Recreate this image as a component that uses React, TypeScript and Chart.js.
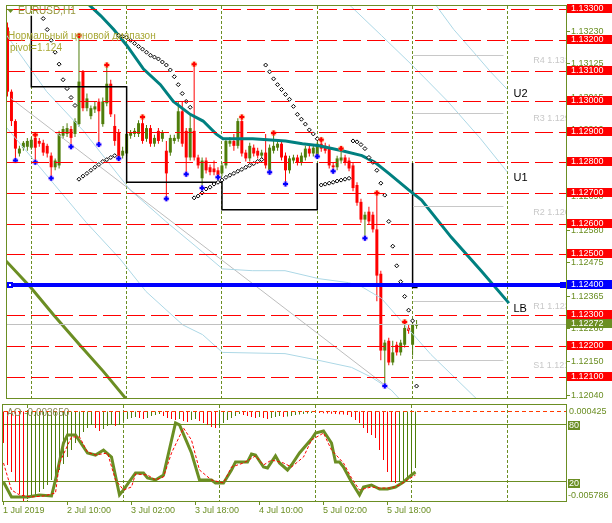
import React, { useEffect, useRef } from 'react';
import { Chart, registerables } from 'chart.js';

Chart.register(...registerables);

// ---------- EURUSD H1 bars (1 Jul 18:00 ... 5 Jul 21:00) ----------
const openP = [
  1.13243, 1.13033, 1.12937, 1.12831, 1.12850, 1.12853, 1.12850, 1.12882, 1.12872, 1.12866,
  1.12856, 1.12824, 1.12786, 1.12792, 1.12889, 1.12895, 1.12911, 1.12895, 1.12927, 1.13098,
  1.12979, 1.12953, 1.12975, 1.13001, 1.12927, 1.12995, 1.13059, 1.12921, 1.12898, 1.12824,
  1.12831, 1.12889, 1.12895, 1.12895, 1.12930, 1.12879, 1.12914, 1.12863, 1.12905, 1.12879,
  1.12840, 1.12834, 1.12872, 1.12879, 1.12969, 1.12905, 1.12818, 1.12905, 1.12818, 1.12750,
  1.12808, 1.12786, 1.12782, 1.12776, 1.12766, 1.12792, 1.12863, 1.12872, 1.12856, 1.12937,
  1.12834, 1.12815, 1.12850, 1.12840, 1.12824, 1.12834, 1.12776, 1.12840, 1.12850, 1.12863,
  1.12824, 1.12776, 1.12808, 1.12818, 1.12802, 1.12818, 1.12847, 1.12831, 1.12824, 1.12863,
  1.12856, 1.12850, 1.12792, 1.12786, 1.12808, 1.12818, 1.12808, 1.12792, 1.12728, 1.12673,
  1.12615, 1.12641, 1.12631, 1.12583, 1.12438, 1.12187, 1.12219, 1.12148, 1.12206, 1.12181,
  1.12206, 1.12261, 1.12206, 1.12268,
];
const highP = [
  1.13259, 1.13040, 1.12943, 1.12856, 1.12872, 1.12882, 1.12885, 1.12892, 1.12882, 1.12876,
  1.12863, 1.12834, 1.12815, 1.12905, 1.12921, 1.12930, 1.12921, 1.12946, 1.13217, 1.13104,
  1.13027, 1.12988, 1.13001, 1.13011, 1.13014, 1.13120, 1.13072, 1.12959, 1.12911, 1.12853,
  1.12905, 1.12908, 1.12914, 1.12940, 1.12950, 1.12924, 1.12924, 1.12892, 1.12914, 1.12908,
  1.12872, 1.12892, 1.12892, 1.13001, 1.13001, 1.12914, 1.12963, 1.13123, 1.12827, 1.12818,
  1.12818, 1.12795, 1.12808, 1.12786, 1.12802, 1.12882, 1.12885, 1.12895, 1.12946, 1.12950,
  1.12843, 1.12866, 1.12860, 1.12850, 1.12843, 1.12895, 1.12860, 1.12898, 1.12872, 1.12872,
  1.12834, 1.12824, 1.12827, 1.12827, 1.12834, 1.12856, 1.12856, 1.12860, 1.12869, 1.12876,
  1.12866, 1.12860, 1.12802, 1.12824, 1.12847, 1.12827, 1.12818, 1.12802, 1.12737, 1.12683,
  1.12641, 1.12657, 1.12641, 1.12702, 1.12448, 1.12222, 1.12229, 1.12219, 1.12216, 1.12222,
  1.12280, 1.12274, 1.12280, 1.12287,
];
const lowP = [
  1.13017, 1.12921, 1.12808, 1.12821, 1.12840, 1.12840, 1.12843, 1.12802, 1.12853, 1.12824,
  1.12818, 1.12750, 1.12776, 1.12782, 1.12879, 1.12885, 1.12853, 1.12885, 1.12918, 1.12969,
  1.12969, 1.12943, 1.12963, 1.12860, 1.12918, 1.12985, 1.12950, 1.12856, 1.12815, 1.12815,
  1.12821, 1.12879, 1.12885, 1.12885, 1.12863, 1.12869, 1.12853, 1.12853, 1.12863, 1.12869,
  1.12683, 1.12824, 1.12863, 1.12869, 1.12853, 1.12763, 1.12808, 1.12808, 1.12782, 1.12718,
  1.12766, 1.12760, 1.12760, 1.12753, 1.12757, 1.12782, 1.12853, 1.12840, 1.12847, 1.12821,
  1.12805, 1.12805, 1.12821, 1.12815, 1.12815, 1.12782, 1.12770, 1.12831, 1.12840, 1.12808,
  1.12731, 1.12766, 1.12798, 1.12792, 1.12792, 1.12808, 1.12821, 1.12821, 1.12821, 1.12837,
  1.12831, 1.12782, 1.12773, 1.12776, 1.12798, 1.12792, 1.12773, 1.12708, 1.12660, 1.12605,
  1.12554, 1.12599, 1.12573, 1.12348, 1.12155, 1.12071, 1.12139, 1.12139, 1.12171, 1.12171,
  1.12197, 1.12242, 1.12171, 1.12258,
];
const closeP = [
  1.13033, 1.12937, 1.12847, 1.12847, 1.12866, 1.12872, 1.12876, 1.12850, 1.12863, 1.12834,
  1.12831, 1.12786, 1.12808, 1.12895, 1.12911, 1.12914, 1.12882, 1.12937, 1.13066, 1.12979,
  1.13011, 1.12979, 1.12985, 1.12969, 1.13001, 1.13059, 1.12959, 1.12872, 1.12821, 1.12840,
  1.12895, 1.12898, 1.12905, 1.12930, 1.12872, 1.12914, 1.12863, 1.12882, 1.12872, 1.12898,
  1.12766, 1.12882, 1.12882, 1.12969, 1.12863, 1.12818, 1.12914, 1.12818, 1.12792, 1.12808,
  1.12776, 1.12770, 1.12770, 1.12760, 1.12792, 1.12872, 1.12872, 1.12856, 1.12937, 1.12831,
  1.12815, 1.12856, 1.12831, 1.12824, 1.12834, 1.12792, 1.12850, 1.12856, 1.12863, 1.12818,
  1.12776, 1.12815, 1.12818, 1.12802, 1.12824, 1.12847, 1.12831, 1.12850, 1.12863, 1.12847,
  1.12840, 1.12792, 1.12786, 1.12815, 1.12818, 1.12802, 1.12782, 1.12718, 1.12670, 1.12615,
  1.12631, 1.12609, 1.12583, 1.12432, 1.12187, 1.12213, 1.12148, 1.12181, 1.12181, 1.12213,
  1.12261, 1.12251, 1.12271, 1.12272,
];

// fractals (bar indices)
const upFractalIdx = [7, 18, 25, 34, 47, 59, 67, 79, 84, 93, 100];
const downFractalIdx = [2, 7, 11, 16, 23, 28, 40, 45, 49, 53, 66, 70, 78, 82, 90, 95];

// parabolic SAR
const sarIdx = [
  9, 10, 11, 12, 13, 14, 15, 16, 17,
  18, 19, 20, 21, 22, 23, 24, 25, 26, 27,
  28, 29, 30, 31, 32, 33, 34, 35, 36, 37, 38, 39, 40, 41, 42, 43, 44, 45, 46,
  47, 48, 49, 50, 51, 52, 53, 54, 55, 56, 57, 58, 59, 60, 61, 62, 63, 64,
  65, 66, 67, 68, 69, 70, 71, 72, 73, 74, 75, 76, 77, 78,
  79, 80, 81, 82, 83, 84, 85, 86,
  87, 88, 89, 90, 91, 92, 93, 94, 95, 96, 97, 98, 99, 100, 101, 102,
  103,
];
const sarVal = [
  1.13272, 1.13236, 1.13201, 1.13162, 1.13123, 1.13072, 1.13043, 1.13014, 1.12988,
  1.12747, 1.12757, 1.12766, 1.12776, 1.12786, 1.12795, 1.12805, 1.12811, 1.12818, 1.12824,
  1.13217, 1.13214, 1.13210, 1.13201, 1.13191, 1.13181, 1.13172, 1.13162, 1.13152, 1.13146, 1.13140, 1.13130, 1.13120, 1.13104, 1.13082, 1.13056, 1.13027, 1.13001, 1.12982,
  1.12686, 1.12692, 1.12702, 1.12715, 1.12721, 1.12731, 1.12737, 1.12744, 1.12753, 1.12760, 1.12766, 1.12773, 1.12779, 1.12786, 1.12792, 1.12798, 1.12805, 1.12811,
  1.13120, 1.13098, 1.13075, 1.13056, 1.13040, 1.13024, 1.13008, 1.12985, 1.12959, 1.12943, 1.12927, 1.12908, 1.12895, 1.12879,
  1.12728, 1.12731, 1.12734, 1.12737, 1.12741, 1.12744, 1.12747, 1.12750,
  1.12872, 1.12869, 1.12860, 1.12847, 1.12818, 1.12802, 1.12776, 1.12734, 1.12695, 1.12609, 1.12528, 1.12464, 1.12412, 1.12364, 1.12319, 1.12284,
  1.12071,
];

// shifted moving average (teal, "LB")
const maIdx = [19.25, 20, 23.5, 26.75, 30, 34.25, 38.5, 41.75, 46, 49.25, 52.5, 54.25, 61.75, 70, 74.25, 78.5, 84.25, 89.25, 92.5, 96, 101, 104.25, 111.75, 119.25, 126.25];
const maVal = [1.13339, 1.13323, 1.13281, 1.13236, 1.13185, 1.13107, 1.13056, 1.13001, 1.12959, 1.12937, 1.12895, 1.12879, 1.12879, 1.12872, 1.12863, 1.12856, 1.12840, 1.12824, 1.12802, 1.12766, 1.12712, 1.12679, 1.12557, 1.12448, 1.12342];

// daily "normal price range" step line (day starts, levels)
const stepIdx = [6, 30, 54, 78, 102, 103.25];
const stepVal = [1.13281, 1.13049, 1.12737, 1.12647, 1.12800, 1.12393];

// light blue envelope curves
const bandUpIdx = [-0.375, 9.875, 19.125, 30.875, 39.875, 49.125, 54.125, 61.625, 69.875, 78.375, 85.875, 89.125, 94.125, 99.125, 106.625, 118.375];
const bandUpVal = [1.13220, 1.13033, 1.12905, 1.12712, 1.12609, 1.12509, 1.12454, 1.12448, 1.12448, 1.12422, 1.12409, 1.12396, 1.12358, 1.12284, 1.12174, 1.12026];
const bandLowIdx = [-0.375, 10.875, 19.875, 28.375, 34.875, 44.125, 49.125, 54.125, 69.875, 78.375, 86.625, 91.625, 96.625, 99.125];
const bandLowVal = [1.12918, 1.12744, 1.12605, 1.12486, 1.12380, 1.12271, 1.12239, 1.12181, 1.12177, 1.12155, 1.12132, 1.12100, 1.12058, 1.12023];
const u1Idx = [85.375, 86.625, 94.125, 101.625, 110.875, 119.125, 125.875];
const u1Val = [1.13326, 1.13310, 1.13217, 1.13123, 1.13001, 1.12879, 1.12770];
const u2Idx = [107.125, 107.625, 112.375, 117.375, 121.625, 125.875];
const u2Val = [1.13329, 1.13320, 1.13236, 1.13162, 1.13098, 1.13040];
const grayTrendIdx = [0.875, 95.375];
const grayTrendVal = [1.13011, 1.12071];
const oliveIdx = [-0.375, 5.875, 11.625, 18.375, 24.125, 29.875, 31.625];
const oliveVal = [1.12480, 1.12393, 1.12303, 1.12203, 1.12119, 1.12029, 1.12004];

// horizontal levels
const redLevels = [1.133, 1.132, 1.131, 1.130, 1.129, 1.128, 1.127, 1.126, 1.125, 1.123, 1.122, 1.121];
const pivotLevel = 1.124;
const lastPrice = 1.12272;
const pivotNames = ['R4', 'R3', 'R2', 'R1', 'S1'];
const pivotVals = [1.13152, 1.12963, 1.12657, 1.12348, 1.12155];
const pivotFromIdx = 102.125;
const pivotToIdx = 124.875;
const pivotLabelIdx = 132.4;
const lineLabels = ['U2', 'U1', 'LB'];
const lineLabelVals = [1.13024, 1.12750, 1.12322];
const lineLabelIdx = 127.4;

// axes
const priceTicks = [1.1323, 1.13125, 1.13015, 1.1291, 1.128, 1.1269, 1.1258, 1.12475, 1.12365, 1.1226, 1.1215, 1.1204];
const daySepIdx = [6, 30, 54, 78, 102, 126];
const timeTickIdx = [0, 16, 32, 48, 64, 80, 96];
const timeTickLabels = ['1 Jul 2019', '2 Jul 10:00', '3 Jul 02:00', '3 Jul 18:00', '4 Jul 10:00', '5 Jul 02:00', '5 Jul 18:00'];

// Awesome oscillator
const aoVals = [
  -0.002034, -0.003457, -0.003910, -0.004557, -0.005333, -0.005786, -0.005657, -0.005527, -0.005398, -0.005204,
  -0.005010, -0.004751, -0.004428, -0.004104, -0.003781, -0.003392, -0.002939, -0.002487, -0.002034, -0.001645,
  -0.001322, -0.001063, -0.000869, -0.001063, -0.001257, -0.001128, -0.000934, -0.000804, -0.000934, -0.000869,
  -0.000610, -0.000481, -0.000416, -0.000351, -0.000416, -0.000481, -0.000416, -0.000287, -0.000222, -0.000157,
  -0.000287, -0.000416, -0.000481, -0.000546, -0.000481, -0.000610, -0.000675, -0.000546, -0.000481, -0.000610,
  -0.000740, -0.000869, -0.000998, -0.001063, -0.000934, -0.000740, -0.000546, -0.000416, -0.000287, -0.000157,
  -0.000222, -0.000287, -0.000351, -0.000416, -0.000351, -0.000416, -0.000481, -0.000416, -0.000351, -0.000287,
  -0.000351, -0.000319, -0.000287, -0.000222, -0.000190, -0.000157, -0.000125, -0.000093, -0.000060, -0.000093,
  -0.000110, -0.000125, -0.000140, -0.000157, -0.000175, -0.000190, -0.000222, -0.000351, -0.000546, -0.000740,
  -0.001063, -0.001387, -0.001516, -0.001710, -0.002487, -0.003134, -0.003910, -0.004557, -0.004622, -0.004557,
  -0.004428, -0.004298, -0.004104, -0.003650,
];
const aoMax = 0.000425;
const aoMin = -0.005786;

// Stochastic
const stochMainIdx = [0, 2, 3, 6, 9, 12, 13, 15, 16, 18, 21, 23, 25, 27, 29, 30, 33, 35, 36, 38, 40, 43, 44, 47, 49, 52, 53, 55, 57, 58, 61, 62, 63, 65, 66, 68, 69, 71, 72, 74, 77, 78, 80, 82, 83, 84, 85, 87, 89, 90, 92, 94, 96, 98, 100, 102, 103];
const stochMainVal = [19.8, 4.2, 4.2, 4.2, 6.3, 5.2, 21.9, 60.4, 68.8, 68.8, 50.0, 47.9, 53.1, 45.8, 6.3, 11.5, 29.2, 29.2, 24.0, 21.9, 27.1, 81.3, 79.2, 50.0, 21.9, 21.9, 18.8, 18.8, 32.3, 40.6, 40.6, 49.0, 47.9, 35.4, 34.4, 46.9, 39.6, 32.3, 37.5, 50.0, 64.6, 70.8, 72.9, 60.4, 40.6, 40.6, 35.4, 19.8, 6.3, 14.6, 16.7, 12.5, 12.5, 14.6, 19.8, 27.1, 30.2];
const stochSigIdx = [0, 2, 4, 7, 10, 13, 14, 17, 19, 21, 23, 26, 28, 30, 32, 33, 36, 38, 40, 42, 45, 47, 49, 52, 55, 57, 60, 63, 65, 67, 70, 72, 75, 77, 80, 82, 85, 87, 89, 92, 94, 97, 99, 101, 103];
const stochSigVal = [39.6, 11.5, 6.3, 4.2, 5.2, 8.3, 39.6, 66.7, 66.7, 51.0, 47.9, 50.0, 21.9, 11.5, 14.6, 28.1, 27.1, 21.9, 25.0, 50.0, 76.0, 63.5, 32.3, 21.9, 18.8, 35.4, 39.6, 46.9, 37.5, 42.7, 39.6, 35.4, 45.8, 63.5, 70.8, 53.1, 39.6, 24.0, 11.5, 14.6, 13.5, 13.5, 16.7, 21.9, 27.1];
const stochLevels = [80, 20];

// ---------- styling ----------
const OLIVE = '#6B8E23';
const CGREEN = '#4E7D0A';
const RED = '#FF0000';
const BLUE = '#0000FF';
const TEAL = '#008080';
const LBLUE = '#ADD8E6';
const FONT9 = '9px "Liberation Sans", Arial, sans-serif';
const FONT10 = '10px "Liberation Sans", Arial, sans-serif';
const FONT11 = '11px "Liberation Sans", Arial, sans-serif';
const X_MIN = -0.375;
const X_MAX = 140.625;

const crisp = (v: number) => Math.floor(v) + 0.5;
const pts = (xs: number[], ys: number[]) => xs.map((x, k) => ({ x, y: ys[k] }));
const lineDs = (data: any[], color: string, width: number, order: number, extra: any = {}) => ({
  type: 'line',
  data,
  borderColor: color,
  borderWidth: width,
  pointRadius: 0,
  fill: false,
  tension: 0,
  order,
  ...extra,
});

const mainDeco = {
  id: 'mainDeco',
  beforeDatasetsDraw(chart: any) {
    const { ctx, chartArea: a, scales } = chart;
    const x = scales.x;
    ctx.save();
    ctx.strokeStyle = OLIVE;
    ctx.lineWidth = 1;
    ctx.setLineDash([3, 2]);
    daySepIdx.forEach((d) => {
      const X = crisp(x.getPixelForValue(d));
      if (X > a.right) return;
      ctx.beginPath();
      ctx.moveTo(X, a.top);
      ctx.lineTo(X, a.bottom);
      ctx.stroke();
    });
    ctx.restore();
  },
  afterDatasetsDraw(chart: any) {
    const { ctx, chartArea: a, scales } = chart;
    const x = scales.x;
    const y = scales.y;
    ctx.save();
    ctx.beginPath();
    ctx.rect(a.left, a.top, a.right - a.left, a.bottom - a.top);
    ctx.clip();
    ctx.lineWidth = 1;
    ctx.strokeStyle = '#C8C8C8';
    pivotVals.forEach((v) => {
      const Y = crisp(y.getPixelForValue(v));
      ctx.beginPath();
      ctx.moveTo(x.getPixelForValue(pivotFromIdx), Y);
      ctx.lineTo(x.getPixelForValue(pivotToIdx), Y);
      ctx.stroke();
    });
    ctx.strokeStyle = '#C0C0C0';
    const Yl = crisp(y.getPixelForValue(lastPrice));
    ctx.beginPath();
    ctx.moveTo(a.left, Yl);
    ctx.lineTo(a.right, Yl);
    ctx.stroke();
    ctx.strokeStyle = RED;
    ctx.setLineDash([18, 6]);
    redLevels.forEach((v) => {
      const Y = crisp(y.getPixelForValue(v));
      ctx.beginPath();
      ctx.moveTo(a.left + 1, Y);
      ctx.lineTo(a.right, Y);
      ctx.stroke();
    });
    ctx.setLineDash([]);
    const Yb = Math.round(y.getPixelForValue(pivotLevel));
    ctx.strokeStyle = BLUE;
    ctx.lineWidth = 4;
    ctx.beginPath();
    ctx.moveTo(a.left, Yb);
    ctx.lineTo(a.right, Yb);
    ctx.stroke();
    ctx.fillStyle = BLUE;
    ctx.fillRect(a.left + 1, Yb - 3, 6, 6);
    ctx.fillRect(a.right - 6, Yb - 3, 6, 6);
    ctx.fillStyle = '#FFFFFF';
    ctx.fillRect(a.left + 3, Yb - 1, 2, 2);
    ctx.font = FONT9;
    ctx.textAlign = 'left';
    ctx.textBaseline = 'top';
    ctx.fillStyle = '#C8C8C8';
    pivotNames.forEach((n, k) => {
      ctx.fillText(n + ' ' + pivotVals[k].toFixed(5), x.getPixelForValue(pivotLabelIdx), y.getPixelForValue(pivotVals[k]) + 1);
    });
    ctx.font = FONT11;
    ctx.textBaseline = 'middle';
    ctx.fillStyle = '#000000';
    lineLabels.forEach((n, k) => {
      ctx.fillText(n, x.getPixelForValue(lineLabelIdx), y.getPixelForValue(lineLabelVals[k]));
    });
    ctx.restore();

    ctx.save();
    ctx.fillStyle = OLIVE;
    ctx.beginPath();
    ctx.moveTo(7, 9);
    ctx.lineTo(14, 9);
    ctx.lineTo(10.5, 13);
    ctx.closePath();
    ctx.fill();
    ctx.font = FONT10;
    ctx.textAlign = 'left';
    ctx.textBaseline = 'middle';
    ctx.fillStyle = '#96963A';
    ctx.fillText('EURUSD,H1', 18, 11);
    ctx.fillStyle = '#A8A836';
    ctx.fillText('Нормальный ценовой диапазон', 8, 36);
    ctx.fillText('pivot=1.124', 10, 48);
    ctx.restore();
  },
  afterDraw(chart: any) {
    const { ctx, chartArea: a, scales } = chart;
    const y = scales.y;
    ctx.save();
    ctx.strokeStyle = OLIVE;
    ctx.lineWidth = 1;
    ctx.strokeRect(a.left + 0.5, a.top - 0.5, a.right - a.left, a.bottom - a.top + 1);
    ctx.font = FONT9;
    ctx.textAlign = 'left';
    ctx.textBaseline = 'middle';
    priceTicks.forEach((v) => {
      const Y = y.getPixelForValue(v);
      ctx.fillStyle = OLIVE;
      ctx.fillRect(a.right + 1, Math.floor(Y), 3, 1);
      ctx.fillText(v.toFixed(5), a.right + 5, Y);
    });
    const tag = (v: number, bg: string) => {
      const Y = Math.floor(y.getPixelForValue(v));
      ctx.fillStyle = bg;
      ctx.fillRect(a.right + 1, Y - 5, 46, 9);
      ctx.fillStyle = '#FFFFFF';
      ctx.fillText(v.toFixed(5), a.right + 5, Y - 0.5);
    };
    redLevels.forEach((v) => tag(v, RED));
    tag(pivotLevel, BLUE);
    tag(lastPrice, OLIVE);
    ctx.restore();
  },
};

const subDeco = {
  id: 'subDeco',
  beforeDatasetsDraw(chart: any) {
    const { ctx, chartArea: a, scales } = chart;
    const x = scales.x;
    const ys = scales.ys;
    ctx.save();
    ctx.strokeStyle = OLIVE;
    ctx.lineWidth = 1;
    ctx.setLineDash([3, 2]);
    daySepIdx.forEach((d) => {
      const X = crisp(x.getPixelForValue(d));
      if (X > a.right) return;
      ctx.beginPath();
      ctx.moveTo(X, a.top);
      ctx.lineTo(X, a.bottom);
      ctx.stroke();
    });
    ctx.setLineDash([]);
    stochLevels.forEach((lv) => {
      const Y = crisp(ys.getPixelForValue(lv));
      ctx.beginPath();
      ctx.moveTo(a.left, Y);
      ctx.lineTo(a.right, Y);
      ctx.stroke();
    });
    ctx.restore();
  },
  afterDatasetsDraw(chart: any) {
    const { ctx, chartArea: a, scales } = chart;
    const ya = scales.ya;
    ctx.save();
    ctx.strokeStyle = '#FF3C00';
    ctx.lineWidth = 1;
    ctx.setLineDash([4, 3]);
    const Y0 = crisp(ya.getPixelForValue(0));
    ctx.beginPath();
    ctx.moveTo(a.left + 2, Y0);
    ctx.lineTo(a.right, Y0);
    ctx.stroke();
    ctx.setLineDash([]);
    ctx.font = FONT10;
    ctx.textAlign = 'left';
    ctx.textBaseline = 'middle';
    ctx.fillStyle = '#8A8A55';
    ctx.fillText('AO ' + aoVals[aoVals.length - 1].toFixed(6), a.left + 5, a.top + 8);
    ctx.restore();
  },
  afterDraw(chart: any) {
    const { ctx, chartArea: a, scales } = chart;
    const x = scales.x;
    const ys = scales.ys;
    const ya = scales.ya;
    ctx.save();
    ctx.strokeStyle = OLIVE;
    ctx.lineWidth = 1;
    ctx.strokeRect(a.left + 0.5, a.top - 0.5, a.right - a.left, a.bottom - a.top + 1);
    ctx.font = FONT9;
    ctx.textAlign = 'left';
    ctx.textBaseline = 'middle';
    ctx.fillStyle = OLIVE;
    ctx.fillText(aoMax.toFixed(6), a.right + 3, ya.getPixelForValue(aoMax) + 7);
    ctx.fillText(aoMin.toFixed(6), a.right + 2, ya.getPixelForValue(aoMin) - 5);
    stochLevels.forEach((lv) => {
      const Y = Math.round(ys.getPixelForValue(lv));
      ctx.fillStyle = OLIVE;
      ctx.fillRect(a.right + 2, Y - 3, 12, 9);
      ctx.fillStyle = '#FFFFFF';
      ctx.fillText(String(lv), a.right + 3, Y + 1.5);
    });
    ctx.fillStyle = OLIVE;
    timeTickIdx.forEach((t, k) => {
      const X = x.getPixelForValue(t);
      ctx.fillRect(Math.floor(X), a.bottom + 1, 1, 3);
      ctx.fillText(timeTickLabels[k], X - 0.5, a.bottom + 10);
    });
    ctx.restore();
  },
};

export default function App() {
  const mainRef = useRef<HTMLCanvasElement>(null);
  const subRef = useRef<HTMLCanvasElement>(null);

  useEffect(() => {
    const idx = openP.map((_, i) => i);
    const candleColors = idx.map((i) => (closeP[i] >= openP[i] ? CGREEN : RED));
    const barCommon = { grouped: false, categoryPercentage: 1, borderWidth: 0, inflateAmount: 0 };

    // step line: days 1-3 plus the rise into day 4 (day-4 level sits under the 1.128 line),
    // then the drop into day 5
    const stepA = [
      ...pts(stepIdx.slice(0, 4), stepVal.slice(0, 4)),
      { x: stepIdx[3], y: stepVal[4] },
    ];
    const stepB = pts(stepIdx.slice(4), stepVal.slice(4));

    const mainChart = new Chart(mainRef.current as HTMLCanvasElement, {
      type: 'bar',
      data: {
        datasets: [
          {
            type: 'bar',
            data: idx.map((i) => ({ x: i, y: [lowP[i], highP[i]] })),
            backgroundColor: candleColors,
            barPercentage: 0.25,
            maxBarThickness: 1,
            order: 100,
            ...barCommon,
          },
          {
            type: 'bar',
            data: idx.map((i) => ({ x: i, y: [openP[i], closeP[i]] })),
            backgroundColor: candleColors,
            barPercentage: 0.75,
            maxBarThickness: 3,
            minBarLength: 1,
            order: 99,
            ...barCommon,
          },
          lineDs(pts(bandUpIdx, bandUpVal), LBLUE, 1, 90),
          lineDs(pts(bandLowIdx, bandLowVal), LBLUE, 1, 90),
          lineDs(pts(u1Idx, u1Val), LBLUE, 1, 90),
          lineDs(pts(u2Idx, u2Val), LBLUE, 1, 90),
          lineDs(pts(grayTrendIdx, grayTrendVal), '#BDBDBD', 1, 90),
          lineDs(pts(oliveIdx, oliveVal), OLIVE, 3, 88),
          lineDs(stepA, '#000000', 1.5, 86, { stepped: 'after' }),
          lineDs(stepB, '#000000', 1.5, 86, { stepped: 'after' }),
          lineDs(pts(maIdx, maVal), TEAL, 3, 84),
          {
            type: 'line',
            data: pts(sarIdx, sarVal),
            showLine: false,
            pointStyle: 'rectRot',
            pointRadius: 2,
            pointBorderWidth: 1,
            pointBorderColor: '#000000',
            pointBackgroundColor: '#FFFFFF',
            order: 70,
          },
          {
            type: 'line',
            data: upFractalIdx.map((i) => ({ x: i, y: highP[i] })),
            showLine: false,
            pointStyle: 'circle',
            pointRadius: 3,
            pointBorderWidth: 0,
            pointBackgroundColor: 'rgba(255,150,60,0.5)',
            order: 66,
          },
          {
            type: 'line',
            data: downFractalIdx.map((i) => ({ x: i, y: lowP[i] })),
            showLine: false,
            pointStyle: 'circle',
            pointRadius: 3,
            pointBorderWidth: 0,
            pointBackgroundColor: 'rgba(190,120,255,0.5)',
            order: 66,
          },
          {
            type: 'line',
            data: upFractalIdx.map((i) => ({ x: i, y: highP[i] })),
            showLine: false,
            pointStyle: 'cross',
            pointRadius: 2.5,
            pointBorderWidth: 2,
            pointBorderColor: RED,
            order: 64,
          },
          {
            type: 'line',
            data: downFractalIdx.map((i) => ({ x: i, y: lowP[i] })),
            showLine: false,
            pointStyle: 'cross',
            pointRadius: 2.5,
            pointBorderWidth: 2,
            pointBorderColor: BLUE,
            order: 64,
          },
        ] as any,
      },
      options: {
        responsive: false,
        animation: false,
        devicePixelRatio: 1,
        events: [],
        layout: { padding: { left: 2, top: 3, right: 46, bottom: 3 } },
        scales: {
          x: { type: 'linear', min: X_MIN, max: X_MAX, offset: false, display: false },
          y: { type: 'linear', min: 1.12032, max: 1.13313, display: false },
        },
        plugins: { legend: { display: false }, tooltip: { enabled: false } },
      } as any,
      plugins: [mainDeco],
    });

    const aoColors = aoVals.map((v, i) => (i > 0 && v > aoVals[i - 1] ? CGREEN : RED));
    const subChart = new Chart(subRef.current as HTMLCanvasElement, {
      type: 'bar',
      data: {
        datasets: [
          {
            type: 'bar',
            data: aoVals.map((v, i) => ({ x: i, y: v })),
            backgroundColor: aoColors,
            barPercentage: 0.25,
            maxBarThickness: 1,
            yAxisID: 'ya',
            order: 20,
            ...barCommon,
          },
          { ...lineDs(pts(stochMainIdx, stochMainVal), OLIVE, 3, 12), yAxisID: 'ys' },
          { ...lineDs(pts(stochSigIdx, stochSigVal), RED, 1, 10, { borderDash: [3, 2] }), yAxisID: 'ys' },
        ] as any,
      },
      options: {
        responsive: false,
        animation: false,
        devicePixelRatio: 1,
        events: [],
        layout: { padding: { left: 2, top: 1, right: 46, bottom: 22 } },
        scales: {
          x: { type: 'linear', min: X_MIN, max: X_MAX, offset: false, display: false },
          ya: { type: 'linear', min: aoMin, max: aoMax, display: false },
          ys: { type: 'linear', min: 0, max: 100, display: false },
        },
        plugins: { legend: { display: false }, tooltip: { enabled: false } },
      } as any,
      plugins: [subDeco],
    });

    return () => {
      mainChart.destroy();
      subChart.destroy();
    };
  }, []);

  return (
    <div style={{ position: 'fixed', left: 0, top: 0, width: 612, height: 523, background: '#FFFFFF' }}>
      <canvas ref={mainRef} width={612} height={404} style={{ position: 'absolute', left: 0, top: 0 }} />
      <canvas ref={subRef} width={612} height={119} style={{ position: 'absolute', left: 0, top: 404 }} />
    </div>
  );
}
